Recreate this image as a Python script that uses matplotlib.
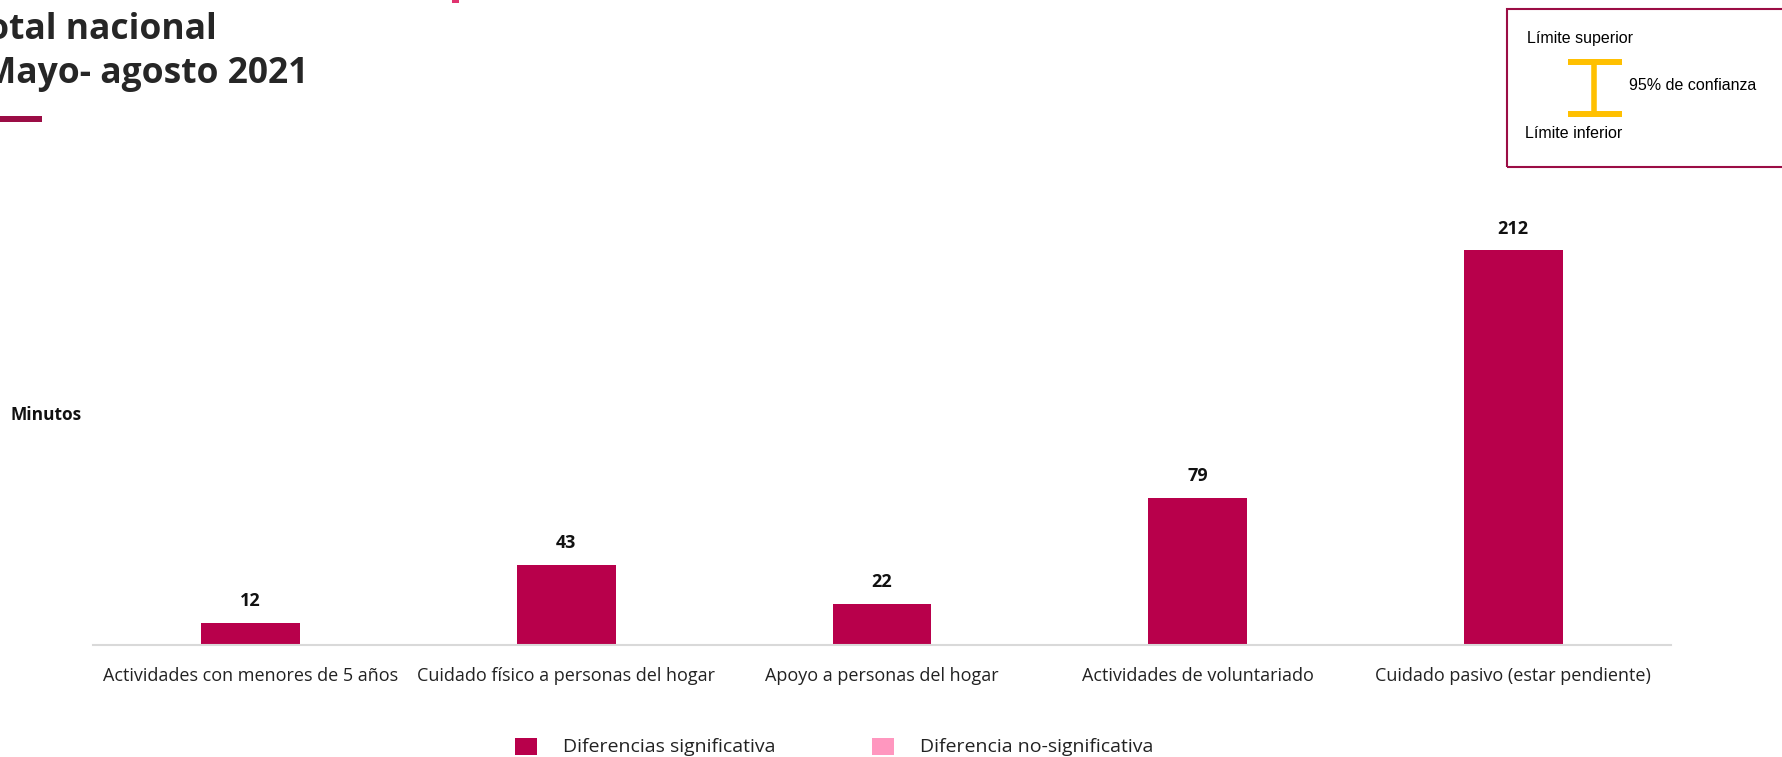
import matplotlib.pyplot as plt
from matplotlib.patches import Rectangle
from matplotlib.lines import Line2D

# datos
categorias = ["Actividades con menores de 5 años",
              "Cuidado físico a personas del hogar",
              "Apoyo a personas del hogar",
              "Actividades de voluntariado",
              "Cuidado pasivo (estar pendiente)"]
minutos = [12, 43, 22, 79, 212]
significativa = [True, True, True, True, True]

titulo_1 = "Total nacional"
titulo_2 = "Mayo- agosto 2021"
leyenda_txt = ["Diferencias significativa", "Diferencia no-significativa"]

COLOR_SIG = "#B8004B"
COLOR_NOSIG = "#FF97BF"
GRANATE = "#9B0D45"
AMARILLO = "#FFC000"

plt.rcParams['font.family'] = ['Open Sans', 'DejaVu Sans']

W, H = 1783, 757
fig = plt.figure(figsize=(W / 100, H / 100), dpi=100)

def fx(px):
    return px / W

def fy(py):
    return 1 - py / H

# ejes: linea base en y=645, escala ~1.863 px por minuto
y_top = 240
ax_bottom = 645
ax_top = ax_bottom - y_top * 1.863
ax = fig.add_axes([fx(93), fy(ax_bottom), fx(1671) - fx(93), (ax_bottom - ax_top) / H])

x = list(range(len(categorias)))
colores = [COLOR_SIG if s else COLOR_NOSIG for s in significativa]
ax.bar(x, minutos, width=0.313, color=colores)

for xi, v in zip(x, minutos):
    ax.annotate(str(v), (xi, v), xytext=(0, 15.5), textcoords="offset points",
                ha="center", va="center", fontsize=13, fontweight="bold", color="#111111")

ax.set_xlim(-0.5, 4.5)
ax.set_ylim(0, y_top)
ax.set_xticks(x)
ax.set_xticklabels(categorias, fontsize=13, color="#222222")
ax.tick_params(axis="x", length=0, pad=16)
ax.set_yticks([])
for s in ["top", "right", "left"]:
    ax.spines[s].set_visible(False)
ax.spines["bottom"].set_color("#d9d9d9")
ax.spines["bottom"].set_linewidth(1.5)

fig.text(fx(11), fy(415), "Minutos", fontsize=12.5, fontweight="bold",
         ha="left", va="center", color="#111111")

# titulo cortado a la izquierda
fig.text(fx(217), fy(39), titulo_1, fontsize=25.5, fontweight="bold",
         ha="right", va="baseline", color="#262626")
fig.text(fx(308), fy(83), titulo_2, fontsize=25.5, fontweight="bold",
         ha="right", va="baseline", color="#262626")
fig.add_artist(Rectangle((0, fy(122)), fx(42), (122 - 116) / H,
                         transform=fig.transFigure, color=GRANATE, lw=0))
fig.add_artist(Rectangle((fx(452), fy(3)), fx(7), 3 / H,
                         transform=fig.transFigure, color="#E0336F", lw=0))

# caja de intervalo de confianza
fig.add_artist(Rectangle((fx(1507), fy(167)), fx(300), (167 - 9) / H,
                         transform=fig.transFigure, fill=False,
                         edgecolor=GRANATE, lw=1.5))
fig.add_artist(Line2D([fx(1594), fx(1594)], [fy(62), fy(114)],
                      transform=fig.transFigure, color=AMARILLO, lw=4,
                      solid_capstyle="butt"))
for yy in [62, 114]:
    fig.add_artist(Line2D([fx(1568), fx(1622)], [fy(yy), fy(yy)],
                          transform=fig.transFigure, color=AMARILLO, lw=4.3,
                          solid_capstyle="butt"))
fig.text(fx(1527), fy(38), "Límite superior", fontsize=11.5,
         family="Liberation Sans", ha="left", va="center")
fig.text(fx(1629), fy(86), "95% de confianza", fontsize=11.5,
         family="Liberation Sans", ha="left", va="center")
fig.text(fx(1525), fy(133), "Límite inferior", fontsize=11.5,
         family="Liberation Sans", ha="left", va="center")

# leyenda inferior
leg_x = [515, 872]
for lx, txt, col in zip(leg_x, leyenda_txt, [COLOR_SIG, COLOR_NOSIG]):
    fig.add_artist(Rectangle((fx(lx), fy(755)), fx(22), 17 / H,
                             transform=fig.transFigure, color=col, lw=0))
    fig.text(fx(lx + 48), fy(747), txt, fontsize=14, ha="left",
             va="center", color="#222222")

plt.savefig("out.png", dpi=100)
